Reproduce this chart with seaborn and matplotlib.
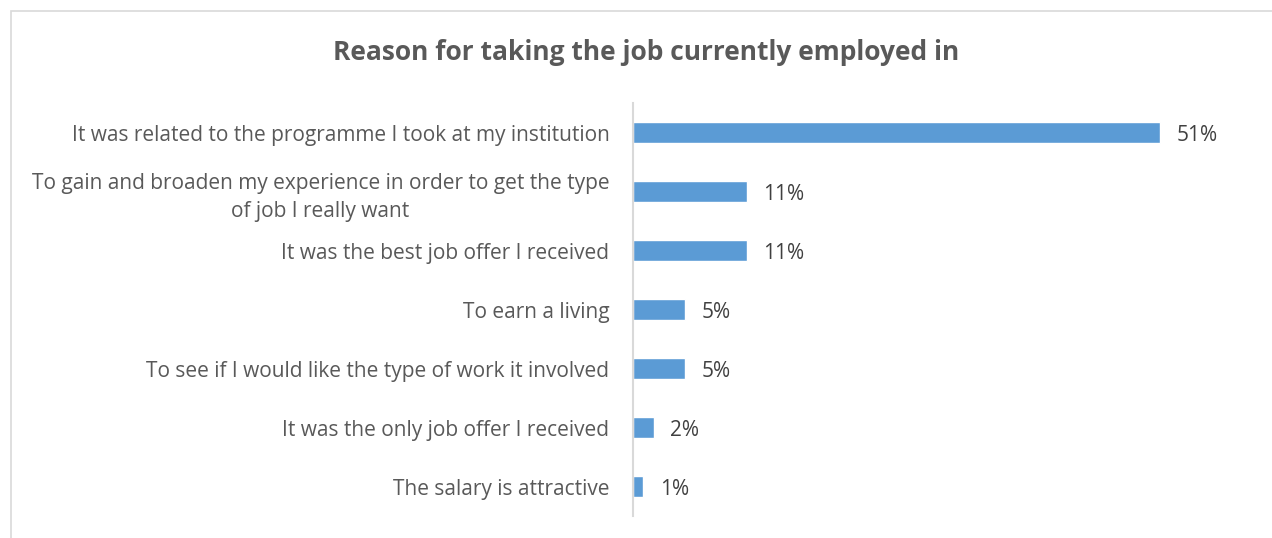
import matplotlib
matplotlib.use("Agg")
import matplotlib.pyplot as plt
import seaborn as sns
import pandas as pd
from matplotlib.patches import Rectangle

reasons = [
    "It was related to the programme I took at my institution",
    "To gain and broaden my experience in order to get the type\nof job I really want",
    "It was the best job offer I received",
    "To earn a living",
    "To see if I would like the type of work it involved",
    "It was the only job offer I received",
    "The salary is attractive",
]
shares = [51, 11, 11, 5, 5, 2, 1]

df = pd.DataFrame({"reason": reasons, "share": shares})

sns.set_theme(style="white")
plt.rcParams["font.family"] = ["Open Sans", "DejaVu Sans"]

fig = plt.figure(figsize=(12.72, 5.38), dpi=100)
ax = fig.add_axes([633 / 1272, 1 - 516 / 538, 620 / 1272, 413 / 538])

sns.barplot(data=df, x="share", y="reason", orient="h", color="#5B9BD5",
            width=0.36, saturation=1, ax=ax)

ax.set_xlim(0, 60)
ax.set_xlabel("")
ax.set_ylabel("")
ax.set_xticks([])
for s in ["top", "right", "bottom"]:
    ax.spines[s].set_visible(False)
ax.spines["left"].set_color("#D9D9D9")
ax.spines["left"].set_linewidth(1.5)
ax.tick_params(axis="y", length=0, pad=17, labelsize=15, labelcolor="#595959")
for lab in ax.get_yticklabels():
    lab.set_horizontalalignment("right")
    lab.set_multialignment("center")
    lab.set_linespacing(1.45)

for i, v in enumerate(shares):
    ax.text(v + 1.6, i, f"{v}%", va="center_baseline", ha="left", fontsize=15, color="#404040")

fig.text(0.508, 1 - 53 / 538, "Reason for taking the job currently employed in",
         ha="center", va="center", fontsize=19, fontweight="bold", color="#595959")

fig.patches.append(Rectangle((11 / 1272, -0.1), 1.2, 1 - 11 / 538 + 0.1,
                             transform=fig.transFigure, fill=False,
                             edgecolor="#D9D9D9", linewidth=1.2))

fig.savefig("out.png", dpi=100)
